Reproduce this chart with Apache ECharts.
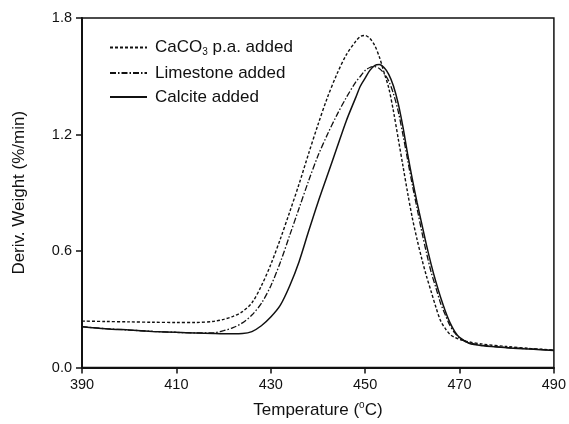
<!DOCTYPE html>
<html>
<head>
<meta charset="utf-8">
<script src="https://cdn.jsdelivr.net/npm/echarts@6/dist/echarts.min.js"></script>
<style>
  html, body { margin: 0; padding: 0; background: #fff; }
  #chart { width: 569px; height: 424px; }
</style>
</head>
<body>
<div id="chart"></div>
<script>
// temperature grid (°C) shared by the three curves
const temps = [390, 395, 400, 405, 410, 414, 418, 420, 422, 424, 426, 428, 430, 432, 434, 436, 438, 440, 442, 444, 446, 448,
  449, 450, 451, 452, 453, 454, 455, 456, 457, 458, 459, 460, 461, 462, 463, 464, 465, 466, 467, 468, 469, 470,
  472, 475, 480, 485, 490]

// Deriv. Weight (%/min)
const caco3 = [0.239, 0.237, 0.235, 0.233, 0.232, 0.232, 0.238, 0.248, 0.263, 0.288, 0.333, 0.42, 0.53, 0.66, 0.80, 0.945, 1.10, 1.25, 1.39, 1.51, 1.61, 1.68,
  1.705, 1.71, 1.695, 1.66, 1.60, 1.52, 1.44, 1.32, 1.18, 1.04, 0.90, 0.77, 0.66, 0.56, 0.47, 0.39, 0.31, 0.24, 0.20, 0.17, 0.155, 0.145,
  0.132, 0.12, 0.108, 0.098, 0.09]
const limestone = [0.21, 0.20, 0.193, 0.186, 0.181, 0.178, 0.18, 0.19, 0.205, 0.23, 0.27, 0.33, 0.42, 0.54, 0.68, 0.82, 0.96, 1.09, 1.20, 1.30, 1.39, 1.47,
  1.50, 1.53, 1.545, 1.55, 1.54, 1.515, 1.475, 1.41, 1.32, 1.20, 1.07, 0.94, 0.82, 0.70, 0.59, 0.49, 0.41, 0.33, 0.27, 0.215, 0.178, 0.152,
  0.127, 0.114, 0.103, 0.096, 0.089]
const calcite = [0.21, 0.20, 0.193, 0.186, 0.181, 0.178, 0.175, 0.174, 0.174, 0.175, 0.185, 0.215, 0.26, 0.32, 0.42, 0.545, 0.70, 0.85, 0.99, 1.13, 1.27, 1.39,
  1.45, 1.49, 1.53, 1.555, 1.56, 1.545, 1.51, 1.45, 1.36, 1.24, 1.10, 0.97, 0.85, 0.74, 0.63, 0.53, 0.44, 0.36, 0.29, 0.23, 0.185, 0.155,
  0.125, 0.112, 0.102, 0.095, 0.088]

const seriesNames = ['CaCO3 p.a. added', 'Limestone added', 'Calcite added']
const xTicks = { min: 390, max: 490, interval: 20 }
const yTicks = { min: 0, max: 1.8, interval: 0.6 }

const chart = echarts.init(document.getElementById('chart'))

const font = '"Liberation Sans", Arial, sans-serif'
const pairs = arr => temps.map((t, i) => [t, arr[i]])

const option = {
  animation: false,
  backgroundColor: '#fff',
  textStyle: { fontFamily: font, color: '#111' },
  grid: {
    left: 82,
    right: 7,
    top: 18,
    bottom: 55,
    show: true,
    borderColor: '#111',
    borderWidth: 1.5,
    backgroundColor: 'transparent'
  },
  legend: {
    orient: 'vertical',
    left: 109,
    top: 39,
    padding: 0,
    itemWidth: 37,
    itemHeight: 14,
    itemGap: 7,
    data: seriesNames,
    itemStyle: { opacity: 0 },
    formatter: name => name === 'CaCO3 p.a. added' ? 'CaCO{sub|3} p.a. added' : name,
    textStyle: {
      fontFamily: font,
      fontSize: 17,
      color: '#111',
      padding: [0, 0, 0, 3],
      rich: {
        sub: { fontSize: 10, fontFamily: font, color: '#111', padding: [10, 0, 0, 0] }
      }
    }
  },
  xAxis: {
    type: 'value',
    min: xTicks.min,
    max: xTicks.max,
    interval: xTicks.interval,
    name: 'Temperature ({sup|o}C)',
    nameLocation: 'middle',
    nameGap: 33,
    nameTextStyle: {
      fontFamily: font,
      fontSize: 17,
      color: '#111',
      rich: {
        sup: { fontSize: 10, fontFamily: font, color: '#111', padding: [0, 0, 10, 0] }
      }
    },
    axisLine: { lineStyle: { color: '#111', width: 2 } },
    axisTick: { show: true, inside: false, length: 6, lineStyle: { color: '#111', width: 1.5 } },
    axisLabel: { fontFamily: font, fontSize: 14.5, color: '#111', margin: 10 },
    splitLine: { show: false }
  },
  yAxis: {
    type: 'value',
    min: yTicks.min,
    max: yTicks.max,
    interval: yTicks.interval,
    name: 'Deriv. Weight (%/min)',
    nameLocation: 'middle',
    nameGap: 54,
    nameTextStyle: { fontFamily: font, fontSize: 17, color: '#111' },
    axisLine: { show: true, lineStyle: { color: '#111', width: 2 } },
    axisTick: { show: true, inside: false, length: 6, lineStyle: { color: '#111', width: 1.5 } },
    axisLabel: {
      fontFamily: font,
      fontSize: 14.5,
      color: '#111',
      margin: 10,
      formatter: v => v.toFixed(1)
    },
    splitLine: { show: false }
  },
  series: [
    {
      name: seriesNames[0],
      type: 'line',
      data: pairs(caco3),
      smooth: 0.3,
      symbol: 'none',
      lineStyle: { color: '#111', width: 1.4, type: [3, 2] },
      itemStyle: { color: '#111' }
    },
    {
      name: seriesNames[1],
      type: 'line',
      data: pairs(limestone),
      smooth: 0.3,
      symbol: 'none',
      lineStyle: { color: '#111', width: 1.3, type: [6, 2, 1.5, 2] },
      itemStyle: { color: '#111' }
    },
    {
      name: seriesNames[2],
      type: 'line',
      data: pairs(calcite),
      smooth: 0.3,
      symbol: 'none',
      lineStyle: { color: '#111', width: 1.5, type: 'solid' },
      itemStyle: { color: '#111' }
    }
  ]
}

chart.setOption(option)

window.addEventListener('resize', () => {
  if (chart) {
    chart.resize()
  }
})
</script>
</body>
</html>
